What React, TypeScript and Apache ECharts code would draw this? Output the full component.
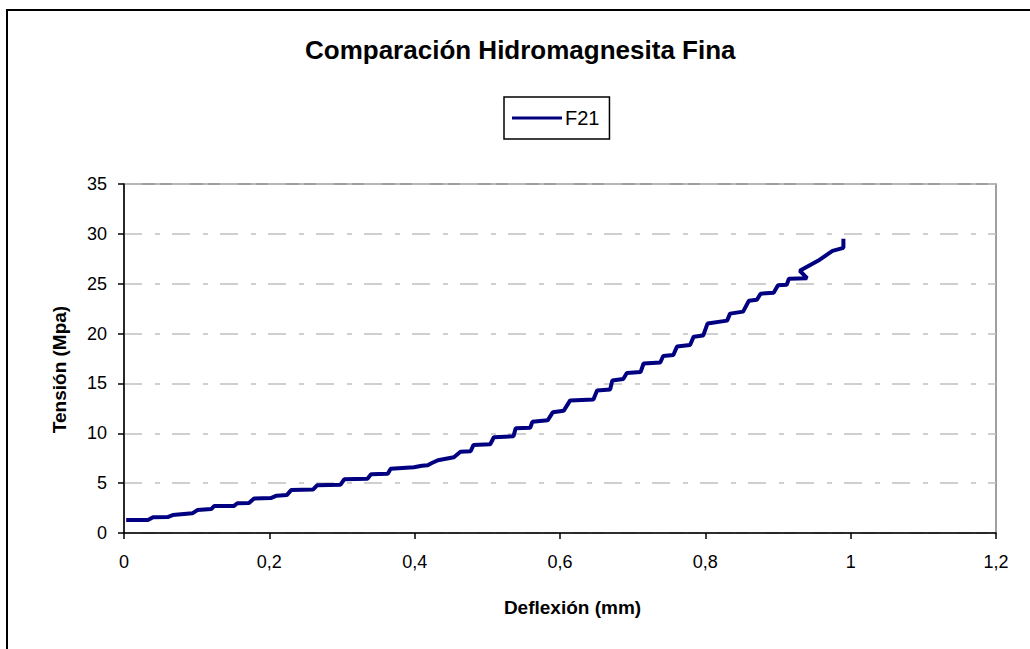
import React, { useEffect, useRef } from "react";
import * as echarts from "echarts";

const chartTitle = "Comparación Hidromagnesita Fina";
const seriesName = "F21";
const xAxisName = "Deflexión (mm)";
const yAxisName = "Tensión (Mpa)";

// Deflexión (mm)
const deflexion = [
  0.003, 0.033, 0.04, 0.06, 0.067, 0.094, 0.101, 0.12, 0.124, 0.151, 0.156, 0.172,
  0.179, 0.202, 0.21, 0.224, 0.23, 0.26, 0.266, 0.298, 0.303, 0.335, 0.34, 0.363,
  0.367, 0.399, 0.41, 0.418, 0.423, 0.432, 0.454, 0.463, 0.477, 0.481, 0.504, 0.509,
  0.536, 0.539, 0.559, 0.562, 0.583, 0.59, 0.605, 0.614, 0.646, 0.651, 0.669, 0.672,
  0.687, 0.692, 0.711, 0.715, 0.738, 0.742, 0.756, 0.761, 0.779, 0.784, 0.797, 0.803,
  0.83, 0.834, 0.852, 0.86, 0.871, 0.876, 0.894, 0.9, 0.912, 0.915, 0.94, 0.93,
  0.945, 0.955, 0.965, 0.975, 0.99, 0.99,
];
// Tensión (Mpa)
const tension = [
  1.3, 1.3, 1.57, 1.6, 1.8, 1.97, 2.3, 2.4, 2.7, 2.7, 2.98, 3.0,
  3.45, 3.5, 3.74, 3.8, 4.3, 4.35, 4.8, 4.85, 5.38, 5.45, 5.9, 5.95,
  6.45, 6.6, 6.75, 6.8, 7.0, 7.3, 7.6, 8.15, 8.2, 8.83, 8.9, 9.6,
  9.7, 10.5, 10.55, 11.15, 11.3, 12.1, 12.25, 13.3, 13.4, 14.3, 14.4, 15.3,
  15.45, 16.05, 16.15, 17.0, 17.1, 17.75, 17.85, 18.7, 18.85, 19.69, 19.8, 21.0,
  21.3, 22.0, 22.2, 23.3, 23.4, 24.0, 24.1, 24.85, 24.9, 25.5, 25.55, 26.3,
  26.9, 27.3, 27.8, 28.3, 28.6, 29.5,
];

const FONT = 'Arial, "Liberation Sans", sans-serif';

export default function App() {
  const ref = useRef<HTMLDivElement>(null);

  useEffect(() => {
    if (!ref.current) return;
    const chart = echarts.init(ref.current, undefined, { renderer: "svg" });
    const data = deflexion.map((x, i) => [x, tension[i]]);
    const fmt = (v: number) => {
      const r = Math.round(v * 10) / 10;
      return String(r).replace(".", ",");
    };
    chart.setOption({
      animation: false,
      backgroundColor: "#ffffff",
      textStyle: { fontFamily: FONT, color: "#000" },
      title: {
        text: chartTitle,
        left: 305,
        top: 37,
        padding: 0,
        textStyle: { fontFamily: FONT, fontSize: 26, fontWeight: "bold", color: "#000" },
      },
      legend: {
        left: 504,
        top: 97,
        padding: [11, 10, 11, 8],
        itemWidth: 50,
        itemHeight: 20,
        borderColor: "#000",
        borderWidth: 1.5,
        textStyle: { fontFamily: FONT, fontSize: 20, color: "#000", padding: [0, 0, 0, -2] },
        data: [{ name: seriesName, icon: "path://M0,9 L50,9 L50,12 L0,12 Z" }],
      },
      graphic: [
        {
          type: "rect",
          shape: { x: 7, y: 10, width: 1100, height: 800 },
          style: { fill: "none", stroke: "#000", lineWidth: 2 },
          silent: true,
          z: -10,
        },
      ],
      grid: {
        left: 124,
        right: 34,
        top: 184,
        bottom: 116,
        show: true,
        borderColor: "#808080",
        borderWidth: 1.5,
        backgroundColor: "#fff",
      },
      xAxis: {
        type: "value",
        min: 0,
        max: 1.2,
        interval: 0.2,
        name: xAxisName,
        nameLocation: "middle",
        nameGap: 65,
        nameTextStyle: {
          fontFamily: FONT,
          fontSize: 19,
          fontWeight: "bold",
          color: "#000",
          padding: [0, 0, 0, 25],
        },
        axisLine: { show: true, onZero: false, lineStyle: { color: "#000", width: 1.5 } },
        axisTick: { show: true, inside: false, length: 6, lineStyle: { color: "#000", width: 1.5 } },
        axisLabel: { fontFamily: FONT, fontSize: 18, color: "#000", margin: 20, formatter: fmt },
        splitLine: { show: false },
      },
      yAxis: {
        type: "value",
        min: 0,
        max: 35,
        interval: 5,
        name: yAxisName,
        nameLocation: "middle",
        nameGap: 55,
        nameRotate: 90,
        nameTextStyle: {
          fontFamily: FONT,
          fontSize: 19,
          fontWeight: "bold",
          color: "#000",
          padding: [0, 22, 0, 0],
        },
        axisLine: { show: true, onZero: false, lineStyle: { color: "#000", width: 1.5 } },
        axisTick: { show: true, inside: false, length: 6, lineStyle: { color: "#000", width: 1.5 } },
        axisLabel: { fontFamily: FONT, fontSize: 18, color: "#000", margin: 17 },
        splitLine: {
          show: true,
          lineStyle: { color: "#c0c0c0", width: 1.5, type: [18, 13, 5, 12] },
        },
      },
      series: [
        {
          name: seriesName,
          type: "line",
          data,
          symbol: "none",
          showSymbol: false,
          lineStyle: { color: "#000080", width: 4 },
          itemStyle: { color: "#000080" },
          z: 5,
        },
      ],
    });
    return () => chart.dispose();
  }, []);

  return (
    <div
      ref={ref}
      style={{ position: "fixed", left: 0, top: 0, width: 1030, height: 649, background: "#fff" }}
    />
  );
}
